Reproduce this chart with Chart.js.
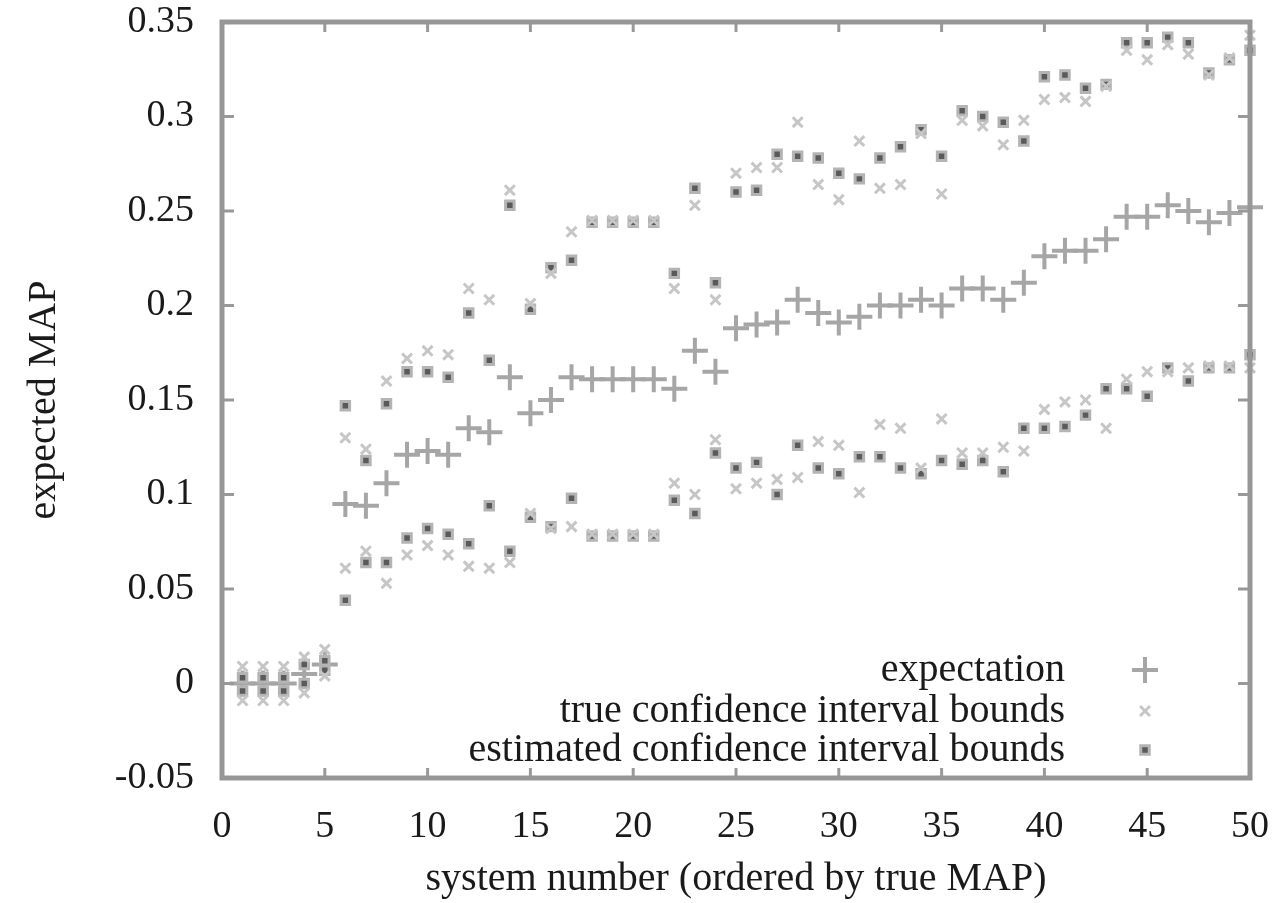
<!DOCTYPE html>
<html lang="en">
<head>
  <meta charset="UTF-8" />
  <title>expected MAP per system</title>
  <script src="https://cdn.jsdelivr.net/npm/chart.js"></script>
  <style>
    body {
      margin: 0;
      background: #fff;
    }
    canvas {
      display: block;
    }
  </style>
</head>
<body>
  <canvas id="mapChart" width="1280" height="903"></canvas>

  <script>
    const systems = [
      1, 2, 3, 4, 5, 6, 7, 8, 9, 10, 11, 12, 13, 14, 15, 16, 17, 18, 19, 20, 21, 22, 23, 24, 25,
      26, 27, 28, 29, 30, 31, 32, 33, 34, 35, 36, 37, 38, 39, 40, 41, 42, 43, 44, 45, 46, 47, 48, 49, 50
    ];
    const expectation = [
      0.0, 0.0, 0.0, 0.005, 0.01, 0.095, 0.094, 0.106, 0.121, 0.123, 0.121, 0.135, 0.133, 0.162, 0.143,
      0.150, 0.162, 0.161, 0.161, 0.161, 0.161, 0.156, 0.176, 0.165, 0.188, 0.190, 0.191, 0.203, 0.196, 0.191,
      0.194, 0.200, 0.200, 0.203, 0.200, 0.209, 0.209, 0.203, 0.212, 0.226, 0.229, 0.229, 0.235, 0.247, 0.247,
      0.253, 0.250, 0.244, 0.249, 0.252
    ];
    const trueLower = [
      -0.009, -0.009, -0.009, -0.005, 0.004, 0.061, 0.070, 0.053, 0.068, 0.073, 0.068, 0.062, 0.061, 0.064, 0.090,
      0.082, 0.083, 0.079, 0.079, 0.079, 0.079, 0.106, 0.100, 0.129, 0.103, 0.106, 0.108, 0.109, 0.128, 0.126,
      0.101, 0.137, 0.135, 0.114, 0.140, 0.122, 0.122, 0.125, 0.123, 0.145, 0.149, 0.150, 0.135, 0.161, 0.165,
      0.165, 0.167, 0.168, 0.168, 0.167
    ];
    const trueUpper = [
      0.009, 0.009, 0.009, 0.014, 0.018, 0.130, 0.124, 0.160, 0.172, 0.176, 0.174, 0.209, 0.203, 0.261, 0.201,
      0.217, 0.239, 0.245, 0.245, 0.245, 0.245, 0.209, 0.253, 0.203, 0.270, 0.273, 0.273, 0.297, 0.264, 0.256,
      0.287, 0.262, 0.264, 0.291, 0.259, 0.298, 0.295, 0.285, 0.298, 0.309, 0.310, 0.308, 0.316, 0.335, 0.330,
      0.338, 0.333, 0.322, 0.331, 0.343
    ];
    const estLower = [
      -0.004, -0.004, -0.004, 0.0, 0.007, 0.044, 0.064, 0.064, 0.077, 0.082, 0.079, 0.074, 0.094, 0.070, 0.088,
      0.083, 0.098, 0.078, 0.078, 0.078, 0.078, 0.097, 0.090, 0.122, 0.114, 0.117, 0.100, 0.126, 0.114, 0.111,
      0.120, 0.120, 0.114, 0.111, 0.118, 0.116, 0.118, 0.112, 0.135, 0.135, 0.136, 0.142, 0.156, 0.156, 0.152,
      0.167, 0.160, 0.167, 0.167, 0.174
    ];
    const estUpper = [
      0.003, 0.003, 0.003, 0.010, 0.012, 0.147, 0.118, 0.148, 0.165, 0.165, 0.162, 0.196, 0.171, 0.253, 0.198,
      0.220, 0.224, 0.244, 0.244, 0.244, 0.244, 0.217, 0.262, 0.212, 0.260, 0.261, 0.280, 0.279, 0.278, 0.270,
      0.267, 0.278, 0.284, 0.293, 0.279, 0.303, 0.300, 0.297, 0.287, 0.321, 0.322, 0.315, 0.317, 0.339, 0.339,
      0.342, 0.339, 0.323, 0.330, 0.335
    ];
    const legendLabels = [
      "expectation",
      "true confidence interval bounds",
      "estimated confidence interval bounds"
    ];

    const FONT = "'Liberation Serif', 'DejaVu Serif', serif";
    const TEXT = "#1a1a1a";

    const toPoints = arr => systems.map((s, i) => ({ x: s, y: arr[i] }));

    const plusStyle = {
      pointStyle: "cross", pointRadius: 13, pointBorderWidth: 4,
      pointBorderColor: "#a6a6a6", pointBackgroundColor: "#a6a6a6"
    };
    const trueStyle = {
      pointStyle: "crossRot", pointRadius: 7, pointBorderWidth: 3,
      pointBorderColor: "#c6c6c6", pointBackgroundColor: "#c6c6c6"
    };
    const estStyle = {
      pointStyle: "rect", pointRadius: 6, pointBorderWidth: 3,
      pointBorderColor: "#b4b4b4", pointBackgroundColor: "#5a5a5a"
    };

    // frame, inward ticks on all four sides, legend inside the plot
    const gnuplotLook = {
      id: "gnuplotLook",
      afterDatasetsDraw(chart) {
        const { ctx, chartArea: a, scales } = chart;
        ctx.save();
        ctx.strokeStyle = "#999";
        ctx.lineWidth = 3;
        scales.x.ticks.forEach(t => {
          const px = scales.x.getPixelForValue(t.value);
          ctx.beginPath();
          ctx.moveTo(px, a.bottom); ctx.lineTo(px, a.bottom - 10);
          ctx.moveTo(px, a.top); ctx.lineTo(px, a.top + 10);
          ctx.stroke();
        });
        scales.y.ticks.forEach(t => {
          const py = scales.y.getPixelForValue(t.value);
          ctx.beginPath();
          ctx.moveTo(a.left, py); ctx.lineTo(a.left + 12, py);
          ctx.moveTo(a.right, py); ctx.lineTo(a.right - 12, py);
          ctx.stroke();
        });
        ctx.lineWidth = 5;
        ctx.strokeStyle = "#979797";
        ctx.strokeRect(a.left, a.top, a.right - a.left, a.bottom - a.top);

        // legend
        const rows = [670, 711, 750];
        const styles = [plusStyle, trueStyle, estStyle];
        ctx.font = "40px " + FONT;
        ctx.textAlign = "right";
        ctx.textBaseline = "middle";
        legendLabels.forEach((lab, i) => {
          ctx.fillStyle = TEXT;
          ctx.fillText(lab, 1065, rows[i]);
          const s = styles[i];
          ctx.strokeStyle = s.pointBorderColor;
          ctx.fillStyle = s.pointBackgroundColor;
          ctx.lineWidth = s.pointBorderWidth;
          Chart.helpers.drawPoint(ctx, {
            pointStyle: s.pointStyle, radius: s.pointRadius,
            borderWidth: s.pointBorderWidth, rotation: 0
          }, 1145, rows[i]);
        });
        ctx.restore();
      }
    };

    new Chart(document.getElementById("mapChart"), {
      type: "scatter",
      data: {
        datasets: [
          { label: legendLabels[1], data: toPoints(trueLower), ...trueStyle, clip: false },
          { label: legendLabels[1], data: toPoints(trueUpper), ...trueStyle, clip: false },
          { label: legendLabels[2], data: toPoints(estLower), ...estStyle, clip: false },
          { label: legendLabels[2], data: toPoints(estUpper), ...estStyle, clip: false },
          { label: legendLabels[0], data: toPoints(expectation), ...plusStyle, clip: false }
        ]
      },
      options: {
        responsive: false,
        animation: false,
        layout: { padding: { top: 22, right: 30, left: 0, bottom: 0 } },
        plugins: {
          legend: { display: false },
          tooltip: { enabled: false }
        },
        scales: {
          x: {
            type: "linear",
            min: 0,
            max: 50,
            grid: { display: false, drawTicks: false, tickLength: 0 },
            border: { display: false },
            ticks: {
              stepSize: 5,
              padding: 26,
              color: TEXT,
              font: { family: FONT, size: 38 }
            },
            title: {
              display: true,
              text: "system number (ordered by true MAP)",
              color: TEXT,
              font: { family: FONT, size: 40 },
              padding: { top: 0, bottom: 0 }
            },
            afterFit(scale) {
              scale.height = 125;
              scale.paddingLeft = 0;
              scale.paddingRight = 0;
            }
          },
          y: {
            min: -0.05,
            max: 0.35,
            grid: { display: false, drawTicks: false, tickLength: 0 },
            border: { display: false },
            ticks: {
              stepSize: 0.05,
              padding: 28,
              color: TEXT,
              font: { family: FONT, size: 38 },
              callback: v => String(parseFloat(v.toFixed(2)))
            },
            title: {
              display: true,
              text: "expected MAP",
              color: TEXT,
              font: { family: FONT, size: 40 },
              padding: { top: 20, bottom: 0 }
            },
            afterFit(scale) {
              scale.width = 222;
              scale.paddingTop = 0;
              scale.paddingBottom = 0;
            }
          }
        }
      },
      plugins: [gnuplotLook]
    });
  </script>
</body>
</html>
